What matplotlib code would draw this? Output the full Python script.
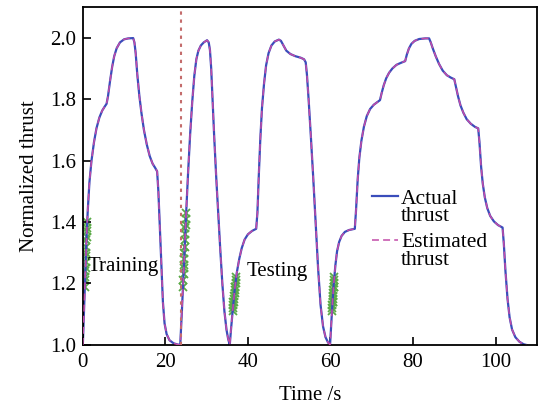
import matplotlib
matplotlib.use("Agg")
import matplotlib.pyplot as plt

plt.rcParams['font.family'] = ['Liberation Serif', 'DejaVu Serif']
plt.rcParams['font.size'] = 15
plt.rcParams['lines.scale_dashes'] = False

# thrust profile (time in s, normalized thrust)
time = [0, 0.3, 0.6, 0.9, 1.2, 1.6, 2.1, 2.7, 3.3, 4.0, 4.7, 5.3, 5.75, 6.1, 6.6,
        7.1, 7.6, 8.2, 9.0, 10.0, 11.0, 12.2, 12.5, 12.8, 13.2, 13.7, 14.2, 14.8,
        15.5, 16.2, 16.9, 17.5, 18.0, 18.3, 18.6, 19.0, 19.4, 19.8, 20.3, 21.0,
        22.0, 23.0, 23.6,
        24.0, 24.5, 25.0, 25.5, 26.0, 26.5, 27.0, 27.5, 28.0, 28.6, 29.3, 30.1,
        30.5, 30.8, 31.1, 31.4, 31.8, 32.3, 32.8, 33.3, 33.8, 34.3, 34.8, 35.2, 35.6,
        35.9, 36.3, 36.8, 37.3, 37.9, 38.5, 39.2, 40.0, 41.0, 42.0, 42.3, 42.6,
        43.0, 43.4, 43.9, 44.4, 45.0, 45.7, 46.5, 47.5, 48.0, 48.6, 49.3, 50.3,
        51.5, 52.8, 53.6, 54.0, 54.3, 54.7, 55.2, 55.8, 56.4, 57.0, 57.6, 58.2,
        58.8, 59.4, 59.9,
        60.2, 60.5, 60.8, 61.2, 61.6, 62.1, 62.7, 63.5, 64.5, 65.9, 66.2, 66.6,
        67.0, 67.5, 68.1, 68.8, 69.6, 70.5, 71.3, 72.0, 72.4, 72.9, 73.5, 74.2,
        75.0, 76.0, 77.0, 78.1, 78.5, 79.0, 79.6, 80.4, 81.5, 83.0, 83.9, 84.3,
        84.8, 85.5, 86.3, 87.2, 88.2, 89.2, 90.0, 90.4, 90.9, 91.5, 92.2, 93.0,
        94.0, 95.0, 95.8, 96.1, 96.5, 96.9, 97.4, 98.0, 98.7, 99.6, 100.6, 101.7,
        102.0, 102.4, 102.9, 103.4, 104.0, 104.8, 105.8, 106.8, 107.4]
actual = [1.0, 1.12, 1.24, 1.35, 1.44, 1.53, 1.60, 1.66, 1.705, 1.74, 1.763, 1.776,
          1.785, 1.81, 1.86, 1.905, 1.94, 1.966, 1.985, 1.995, 1.998, 1.999, 1.985,
          1.95, 1.88, 1.81, 1.755, 1.70, 1.652, 1.615, 1.59, 1.577, 1.565, 1.50,
          1.40, 1.26, 1.14, 1.07, 1.035, 1.015, 1.005, 1.001, 1.0,
          1.11, 1.26, 1.42, 1.56, 1.686, 1.79, 1.875, 1.93, 1.958, 1.975, 1.985,
          1.992, 1.985, 1.96, 1.90, 1.81, 1.686, 1.55, 1.43, 1.31, 1.20, 1.11, 1.05,
          1.02, 1.0,
          1.05, 1.11, 1.18, 1.235, 1.28, 1.315, 1.343, 1.36, 1.371, 1.378, 1.43,
          1.54, 1.67, 1.77, 1.85, 1.91, 1.95, 1.975, 1.988, 1.994, 1.99, 1.975,
          1.958, 1.947, 1.94, 1.935, 1.93, 1.92, 1.88, 1.80, 1.69, 1.55, 1.40, 1.25,
          1.13, 1.06, 1.025, 1.008, 1.0,
          1.07, 1.14, 1.20, 1.26, 1.305, 1.335, 1.355, 1.368, 1.374, 1.378, 1.44,
          1.54, 1.61, 1.665, 1.71, 1.745, 1.768, 1.782, 1.79, 1.797, 1.82, 1.845,
          1.868, 1.886, 1.90, 1.912, 1.918, 1.924, 1.945, 1.965, 1.98, 1.99, 1.996,
          1.998, 1.998, 1.985, 1.965, 1.94, 1.915, 1.893, 1.878, 1.87, 1.865, 1.84,
          1.81, 1.78, 1.756, 1.735, 1.72, 1.71, 1.705, 1.66, 1.58, 1.525, 1.48,
          1.445, 1.42, 1.402, 1.39, 1.382, 1.33, 1.24, 1.15, 1.09, 1.05, 1.025,
          1.01, 1.002, 1.0]
estimated = actual

# green marked samples used for training / testing
mark_time = [[0.48, 0.52, 0.57, 0.61, 0.66, 0.70, 0.75, 0.79, 0.84, 0.88, 0.93, 0.97, 1.02, 1.06],
             [24.27, 24.33, 24.39, 24.45, 24.50, 24.56, 24.62, 24.68, 24.74, 24.80, 24.86, 24.91, 24.97, 25.03],
             [36.30, 36.37, 36.43, 36.50, 36.56, 36.63, 36.69, 36.76, 36.82, 36.89, 36.95, 37.02, 37.08, 37.15],
             [60.37, 60.41, 60.46, 60.50, 60.54, 60.59, 60.63, 60.67, 60.71, 60.76, 60.80, 60.84, 60.89, 60.93]]
mark_value = [[1.19, 1.21, 1.22, 1.24, 1.25, 1.27, 1.29, 1.30, 1.32, 1.34, 1.35, 1.37, 1.38, 1.40],
              [1.19, 1.21, 1.23, 1.25, 1.26, 1.28, 1.30, 1.32, 1.34, 1.36, 1.38, 1.39, 1.41, 1.43],
              [1.11, 1.12, 1.13, 1.14, 1.14, 1.15, 1.16, 1.17, 1.18, 1.19, 1.19, 1.20, 1.21, 1.22],
              [1.11, 1.12, 1.13, 1.14, 1.14, 1.15, 1.16, 1.17, 1.18, 1.19, 1.19, 1.20, 1.21, 1.22]]
split_time = 23.8

fig = plt.figure(figsize=(5.45, 4.16), dpi=100)
ax = fig.add_axes([0.152, 0.171, 0.833, 0.812])

for mt, mv in zip(mark_time, mark_value):
    ax.plot(mt, mv, ls='none', marker='x', ms=6, mew=1.3, color='#5aaa46', zorder=1)

ax.plot(time, actual, color='#3a4dbb', lw=1.6, label='Actual', zorder=2)
ax.plot(time, estimated, color='#c24ca8', lw=1.1, dashes=(5, 3),
        label='Estimated', zorder=3)
ax.axvline(split_time, color='#c46c6c', lw=1.5, dashes=(2.4, 3.4), zorder=3)

ax.text(1.2, 1.255, 'Training', va='center', ha='left')
ax.text(39.8, 1.24, 'Testing', va='center', ha='left')

ax.set_xlim(0, 110)
ax.set_ylim(1.0, 2.1)
ax.set_xticks([0, 20, 40, 60, 80, 100])
ax.set_yticks([1.0, 1.2, 1.4, 1.6, 1.8, 2.0])
ax.set_yticklabels(['1.0', '1.2', '1.4', '1.6', '1.8', '2.0'])
ax.tick_params(direction='in', length=5.5, width=1.2, top=False, right=False)
ax.tick_params(axis='x', pad=6)
ax.tick_params(axis='y', pad=4.5)
for s in ax.spines.values():
    s.set_linewidth(1.3)

ax.set_xlabel('Time /s', labelpad=10)
ax.set_ylabel('Normalized thrust', labelpad=8)

leg = ax.legend(loc='upper left', bbox_to_anchor=(0.637, 0.463), frameon=False,
                borderpad=0, borderaxespad=0, handlelength=1.2, handletextpad=0.15,
                labelspacing=1.1, fontsize=15.5)
for t in leg.get_texts():
    ax.annotate('thrust', xy=(0, 0), xycoords=t, xytext=(0, -9.1),
                textcoords='offset points', va='baseline', ha='left',
                fontsize=15.5, zorder=10)

fig.savefig('out.png', dpi=100, facecolor='white')
